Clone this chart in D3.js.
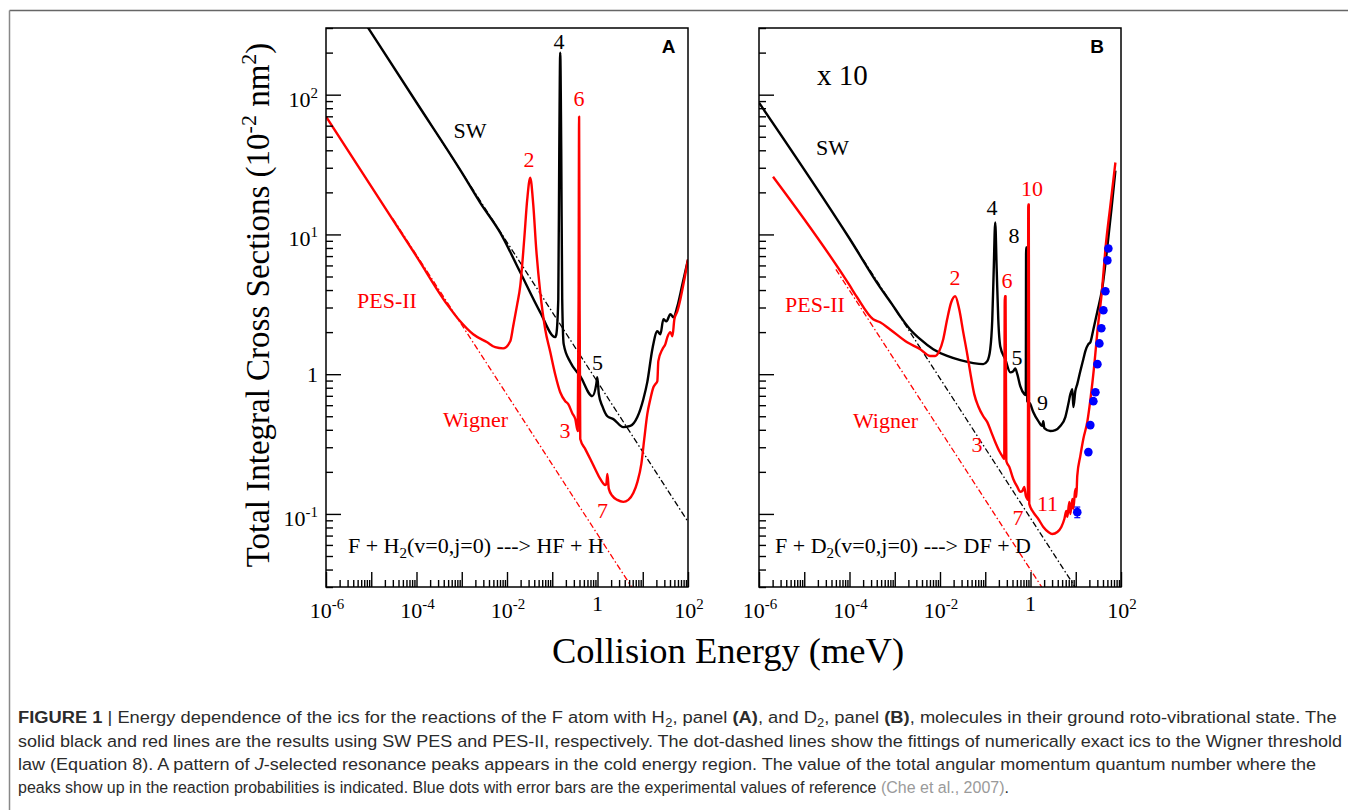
<!DOCTYPE html>
<html><head><meta charset="utf-8">
<script src="https://cdn.jsdelivr.net/npm/d3@7"></script>
<style>body{margin:0;background:#fff}svg{display:block}</style>
</head><body>
<svg id="chart" width="1348" height="810"></svg>
<script>
// ---------------- DATA (energy in meV, cross section in 10^-2 nm^2) ----------------
// Panel A : F + H2
const energyA_SW = [5.0e-6,1e-4,1e-3,2.55e-3,7.08e-3,0.0196,0.0543,0.116,0.122,0.136,0.143,0.150,0.158,0.166,0.179,0.250,0.416,0.767,0.940,0.991,1.07,1.28,1.65,2.24,3.72,5.32,7.60,10.3,12.6,16.3,21.0,24.5,28.6,33.3,40.8,47.5,58.2,75.2,100];
const sigmaA_SW  = [393,87.9,27.8,16.9,10.3,5.36,2.77,1.84,1.90,3.44,40.5,200,40.5,3.44,1.64,1.22,0.968,0.697,0.849,0.953,0.72,0.59,0.50,0.477,0.418,0.426,0.493,0.662,0.877,1.51,2.03,1.93,2.47,2.39,2.69,2.55,3.06,4.40,6.6];
const energyA_PES = [1e-6,1e-4,4.75e-4,9.23e-4,1.79e-3,3.65e-3,5.48e-3,8.24e-3,0.0118,0.0137,0.0168,0.0196,0.0240,0.0280,0.0326,0.0380,0.0443,0.0543,0.070,0.0904,0.116,0.150,0.194,0.226,0.277,0.323,0.366,0.382,0.392,0.402,0.416,0.537,0.693,0.893,1.15,1.49,1.57,1.65,1.78,2.12,2.74,3.72,4.80,6.19,7.60,9.31,10.8,12.6,14.7,17.2,19.0,21.0,22.1,27.2,31.6,35.0,40.8,45.2,50.0,58.2,67.9,83.2,100];
const sigmaA_PES  = [69.7,6.97,3.16,2.39,1.93,1.69,1.56,1.53,1.72,2.20,3.16,4.26,9.20,17.8,25.5,16.4,7.82,3.85,2.09,1.44,1.0,0.743,0.641,0.611,0.526,0.478,0.392,3.44,69.7,3.44,0.344,0.291,0.247,0.209,0.178,0.161,0.164,0.193,0.151,0.135,0.126,0.122,0.126,0.141,0.169,0.228,0.344,0.518,0.662,0.807,0.849,0.891,1.24,1.51,1.64,1.84,2.0,1.87,2.47,2.82,3.44,4.78,6.62];
const wignerA_SW_E = [1e-4,100],  wignerA_SW_S = [88,0.088];
const wignerA_PES_E = [3e-5,10],  wignerA_PES_S = [13.0,0.0226];

// Panel B : F + D2 (x 10)
const energyB_SW = [1e-6,1e-4,4.75e-4,8.75e-4,1.32e-3,2.19e-3,3.65e-3,7.08e-3,0.0144,0.028,0.0543,0.0904,0.111,0.129,0.143,0.154,0.166,0.179,0.194,0.215,0.277,0.357,0.416,0.461,0.511,0.594,0.729,0.787,0.80,0.83,0.849,0.991,1.15,1.49,1.82,1.92,2.02,2.74,3.54,4.56,5.89,6.85,7.60,8.41,8.85,9.79,10.8,12.6,14.7,16.3,19.0,21.0,24.5,30.1,38.2,49.2,61.4,75.2];
const sigmaB_SW  = [87.7,9.35,4.18,3.16,2.59,2.09,1.78,1.51,1.35,1.26,1.20,1.18,1.24,1.51,2.47,5.62,12.2,5.62,2.47,1.58,1.28,1.03,1.05,1.10,1.0,0.82,0.72,0.708,8.07,8.07,0.641,0.611,0.536,0.461,0.426,0.461,0.411,0.392,0.398,0.426,0.493,0.611,0.72,0.782,0.581,0.757,0.849,1.05,1.28,1.46,1.64,1.69,2.09,2.82,4.05,7.82,15.1,28.6];
const energyB_PES = [2.04e-6,1e-4,1.47e-4,3.33e-4,4.75e-4,7.91e-4,1.88e-3,3.65e-3,6.07e-3,7.83e-3,9.6e-3,0.0118,0.0144,0.0177,0.0217,0.0266,0.0326,0.040,0.0466,0.0571,0.070,0.0904,0.111,0.136,0.166,0.204,0.238,0.263,0.27,0.281,0.292,0.34,0.416,0.511,0.594,0.659,0.729,0.787,0.849,0.875,0.893,0.916,0.94,1.15,1.49,1.92,2.48,3.03,3.92,4.80,5.60,6.19,6.52,7.21,7.60,8.41,8.85,9.79,10.3,10.8,12.6,14.7,18.1,21.0,25.8,30.1,38.2,45.2,58.2,75.2];
const sigmaB_PES  = [25.9,4.33,3.55,2.47,2.35,2.09,1.69,1.51,1.35,1.35,1.46,1.78,2.47,3.27,3.61,2.91,2.0,1.39,1.03,0.72,0.59,0.50,0.454,0.385,0.327,0.282,0.259,0.247,3.61,3.61,0.239,0.217,0.178,0.156,0.144,0.146,0.156,0.135,0.128,0.126,16.4,16.4,0.118,0.103,0.092,0.0807,0.0743,0.0719,0.0743,0.0807,0.092,0.105,0.0953,0.122,0.10,0.128,0.109,0.151,0.132,0.187,0.259,0.344,0.461,0.652,1.18,2.03,4.05,7.82,16.1,32.7];
const wignerB_SW_E = [1e-4,10],   wignerB_SW_S = [9.33,0.0295];
const wignerB_PES_E = [5e-5,2],   wignerB_PES_S = [5.62,0.0282];
// experiment (Che et al., 2007)
const energyExp = [52.6,50.0,45.2,40.8,36.8,33.3,30.1,27.2,24.5,21.0,19.0,10.8];
const sigmaExp  = [7.94,6.52,3.92,2.87,2.13,1.66,1.18,0.743,0.641,0.432,0.277,0.103];
const errorExp  = [0.3,0.25,0.15,0.1,0.08,0.06,0.04,0.03,0.025,0.015,0.01,0.009];

// tick labels (powers of ten)
const xLabelExps = [-6,-4,-2,0,2];
const yLabelExps = [2,1,0,-1];

// annotations (anchored in data coordinates)
const labelsA = [
  {t:"SW",E:1.52e-3,S:49.2,c:"black"},{t:"2",E:0.0306,S:30.5,c:"red"},{t:"4",E:0.141,S:213,c:"black"},
  {t:"6",E:0.390,S:83.4,c:"red"},{t:"PES-II",E:2.23e-5,S:2.99,c:"red"},{t:"5",E:1.0,S:1.08,c:"black"},
  {t:"Wigner",E:2.01e-3,S:0.421,c:"red"},{t:"3",E:0.191,S:0.351,c:"red"},{t:"7",E:1.29,S:0.094,c:"red"}];
const labelsB = [
  {t:"SW",E:4.2e-5,S:37.2,c:"black"},{t:"PES-II",E:1.73e-5,S:2.8,c:"red"},{t:"2",E:0.0214,S:4.37,c:"red"},
  {t:"4",E:0.141,S:13.8,c:"black"},{t:"8",E:0.431,S:8.73,c:"black"},{t:"10",E:1.08,S:18.9,c:"red"},
  {t:"6",E:0.303,S:4.16,c:"red"},{t:"5",E:0.503,S:1.17,c:"black"},{t:"9",E:1.84,S:0.557,c:"black"},
  {t:"Wigner",E:6.25e-4,S:0.414,c:"red"},{t:"3",E:0.0658,S:0.279,c:"red"},{t:"7",E:0.530,S:0.0838,c:"red"},
  {t:"11",E:2.38,S:0.105,c:"red"}];

const captionLines = [
  [{t:"FIGURE 1",b:1},{t:" | Energy dependence of the ics for the reactions of the F atom with H"},{t:"2",sub:1},{t:", panel "},{t:"(A)",b:1},{t:", and D"},{t:"2",sub:1},{t:", panel "},{t:"(B)",b:1},{t:", molecules in their ground roto-vibrational state. The"}],
  [{t:"solid black and red lines are the results using SW PES and PES-II, respectively. The dot-dashed lines show the fittings of numerically exact ics to the Wigner threshold"}],
  [{t:"law (Equation 8). A pattern of "},{t:"J",i:1},{t:"-selected resonance peaks appears in the cold energy region. The value of the total angular momentum quantum number where the"}],
  [{t:"peaks show up in the reaction probabilities is indicated. Blue dots with error bars are the experimental values of reference "},{t:"(Che et al., 2007)",g:1},{t:"."}]
];

// ---------------- LAYOUT ----------------
const svg = d3.select("#chart");
const serif = "'Liberation Serif','Times New Roman',serif";
const sans = "'Liberation Sans',Arial,sans-serif";
const top_ = 28, bottom_ = 587, pw = 362;
const y = d3.scaleLog().domain([0.03,300]).range([bottom_,top_]);
const RED = "#ff0000";

svg.append("rect").attr("width",1348).attr("height",810).attr("fill","#fff");
// figure border (top & left)
svg.append("line").attr("x1",9.5).attr("x2",1348).attr("y1",10.5).attr("y2",10.5).attr("stroke","#666").attr("stroke-width",1.5);
svg.append("line").attr("x1",9.5).attr("x2",9.5).attr("y1",10.5).attr("y2",810).attr("stroke","#888").attr("stroke-width",1.5);

const decades = d3.range(-6,3);
const majorX = decades.map(e=>Math.pow(10,e));
const mult = [2,3,4,5,6,7,8,9];
const minorX = [];
decades.slice(0,-1).forEach(e=>mult.forEach(m=>minorX.push(m*Math.pow(10,e))));
const majorY = [0.1,1,10,100];
const minorY = [];
[-2,-1,0,1,2].forEach(e=>mult.forEach(m=>{const v=m*Math.pow(10,e); if(v>=0.0299&&v<=300.1) minorY.push(v);}));

function pts(E,S){return E.map((e,i)=>[e,S[i]]);}

function addPow(sel, exp, fs){
  if(exp===0){sel.text("1");return;}
  sel.append("tspan").text("10");
  sel.append("tspan").attr("dy",-9).attr("font-size",fs*0.68).text(String(exp));
}

function panel(left, idx, cfg){
  const x = d3.scaleLog().domain([1e-6,1e2]).range([left,left+pw]);
  const g = svg.append("g");
  const clipId = "clip"+idx;
  svg.append("clipPath").attr("id",clipId).append("rect")
     .attr("x",left).attr("y",top_).attr("width",pw).attr("height",bottom_-top_);
  const line = d3.line().x(d=>x(d[0])).y(d=>y(d[1])).curve(d3.curveMonotoneX);
  const plot = g.append("g").attr("clip-path",`url(#${clipId})`);
  cfg.wigner.forEach(w=>{
    plot.append("path").attr("d",line(pts(w.E,w.S))).attr("fill","none")
      .attr("stroke",w.c).attr("stroke-width",1.3).attr("stroke-dasharray","6,2.5,1.5,2.5");
  });
  cfg.curves.forEach(c=>{
    plot.append("path").attr("d",line(pts(c.E,c.S))).attr("fill","none")
      .attr("stroke",c.c).attr("stroke-width",2.4).attr("stroke-linejoin","round");
  });
  if(cfg.exp){
    const ex = cfg.exp;
    const eg = plot.append("g").attr("fill","#0000ff").attr("stroke","#0000ff");
    ex.E.forEach((e,i)=>{
      const cx=x(e), y1=y(ex.S[i]-ex.err[i]), y2=y(ex.S[i]+ex.err[i]);
      eg.append("line").attr("x1",cx).attr("x2",cx).attr("y1",y1).attr("y2",y2).attr("stroke-width",1.2);
      eg.append("line").attr("x1",cx-3).attr("x2",cx+3).attr("y1",y1).attr("y2",y1).attr("stroke-width",1.2);
      eg.append("line").attr("x1",cx-3).attr("x2",cx+3).attr("y1",y2).attr("y2",y2).attr("stroke-width",1.2);
      eg.append("circle").attr("cx",cx).attr("cy",y(ex.S[i])).attr("r",4.3).attr("stroke","none");
    });
  }
  const tickStyle = s=>{s.select(".domain").remove(); s.selectAll(".tick line").attr("stroke","#000").attr("stroke-width",1.4);};
  g.append("g").attr("transform",`translate(0,${bottom_})`).call(d3.axisBottom(x).tickValues(majorX).tickSize(-15).tickFormat("")).call(tickStyle);
  g.append("g").attr("transform",`translate(0,${bottom_})`).call(d3.axisBottom(x).tickValues(minorX).tickSize(-7).tickFormat("")).call(tickStyle);
  g.append("g").attr("transform",`translate(${left},0)`).call(d3.axisLeft(y).tickValues(majorY).tickSize(-15).tickFormat("")).call(tickStyle);
  g.append("g").attr("transform",`translate(${left},0)`).call(d3.axisLeft(y).tickValues(minorY).tickSize(-7).tickFormat("")).call(tickStyle);
  g.append("rect").attr("x",left).attr("y",top_).attr("width",pw).attr("height",bottom_-top_)
    .attr("fill","none").attr("stroke","#000").attr("stroke-width",1.5);
  xLabelExps.forEach(e=>{
    const t = g.append("text").attr("x",x(Math.pow(10,e))+(e===0?0:1)).attr("y", e===0?611:618)
      .attr("text-anchor","middle").attr("font-family",serif).attr("font-size",22).attr("fill","#000");
    addPow(t,e,22);
  });
  if(cfg.yLabels){
    yLabelExps.forEach(e=>{
      const t = g.append("text").attr("x",left-8).attr("y", y(Math.pow(10,e)) + (e===0?7.5:12))
        .attr("text-anchor","end").attr("font-family",serif).attr("font-size",22).attr("fill","#000");
      addPow(t,e,22);
    });
  }
  cfg.labels.forEach(l=>{
    g.append("text").attr("x",x(l.E)).attr("y",y(l.S)).attr("text-anchor","middle")
      .attr("font-family",serif).attr("font-size",22).attr("fill",l.c==="red"?RED:"#000").text(l.t);
  });
  const r = g.append("text").attr("x",x(cfg.reaction.E)).attr("y",y(0.0528))
    .attr("font-family",serif).attr("font-size",22).attr("fill","#000");
  r.append("tspan").text(cfg.reaction.a);
  r.append("tspan").attr("dy",5).attr("font-size",15).text("2");
  r.append("tspan").attr("dy",-5).text(cfg.reaction.b);
  g.append("text").attr("x",cfg.letterX).attr("y",52.5).attr("text-anchor","middle")
    .attr("font-family",sans).attr("font-weight","bold").attr("font-size",19).text(cfg.letter);
  return {x,g};
}

panel(326, 0, {
  wigner:[{E:wignerA_SW_E,S:wignerA_SW_S,c:"#000"},{E:wignerA_PES_E,S:wignerA_PES_S,c:RED}],
  curves:[{E:energyA_SW,S:sigmaA_SW,c:"#000"},{E:energyA_PES,S:sigmaA_PES,c:RED}],
  yLabels:true, labels:labelsA,
  reaction:{E:3.06e-6,a:"F + H",b:"(v=0,j=0) ---> HF + H"},
  letter:"A", letterX:668.5
});
const pB = panel(759, 1, {
  wigner:[{E:wignerB_SW_E,S:wignerB_SW_S,c:"#000"},{E:wignerB_PES_E,S:wignerB_PES_S,c:RED}],
  curves:[{E:energyB_SW,S:sigmaB_SW,c:"#000"},{E:energyB_PES,S:sigmaB_PES,c:RED}],
  exp:{E:energyExp,S:sigmaExp,err:errorExp},
  yLabels:false, labels:labelsB,
  reaction:{E:2.26e-6,a:"F + D",b:"(v=0,j=0) ---> DF + D"},
  letter:"B", letterX:1097
});
pB.g.append("text").attr("x",pB.x(1.91e-5)).attr("y",y(118)).attr("font-family",serif)
  .attr("font-size",29).attr("fill","#000").text("x 10");

// axis titles
const yt = svg.append("text").attr("transform","translate(269,305) rotate(-90)").attr("text-anchor","middle")
  .attr("font-family",serif).attr("font-size",33).attr("fill","#000");
yt.append("tspan").text("Total Integral Cross Sections (10");
yt.append("tspan").attr("dy",-13).attr("font-size",22).text("-2");
yt.append("tspan").attr("dy",13).text(" nm");
yt.append("tspan").attr("dy",-13).attr("font-size",22).text("2");
yt.append("tspan").attr("dy",13).text(")");
svg.append("text").attr("x",728).attr("y",663).attr("text-anchor","middle").attr("font-family",serif)
  .attr("font-size",36.5).attr("fill","#000").text("Collision Energy (meV)");

// caption: each line laid out at natural width, then the line group is scaled horizontally
const capBase = [723,747,770,793], capEnd = [1337,1343,1317,1009], capStart = 18;
captionLines.forEach((segs,i)=>{
  const lg = svg.append("g");
  let cx = 0;
  segs.forEach(s=>{
    const t = lg.append("text").attr("x",cx).attr("y",s.sub?4:0).attr("font-family",sans)
      .attr("font-size",s.sub?12:17).attr("fill",s.g?"#9a9a9a":"#2b2b2b")
      .style("white-space","pre").text(s.t);
    if(s.b) t.attr("font-weight","bold");
    if(s.i) t.attr("font-style","italic");
    cx += t.node().getComputedTextLength();
  });
  const k = (capEnd[i]-capStart)/cx;
  lg.attr("transform",`translate(${capStart},${capBase[i]}) scale(${k},1)`);
});
</script>
</body></html>
